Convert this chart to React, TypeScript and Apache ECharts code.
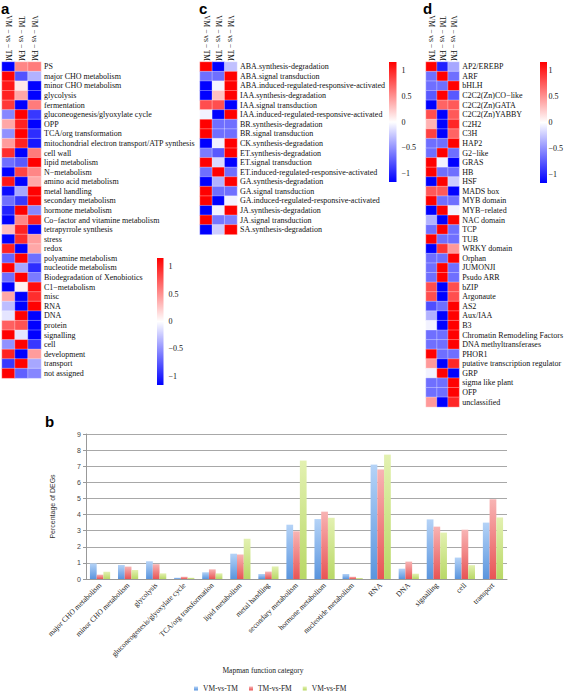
import React, { useEffect, useRef } from "react";
import * as echarts from "echarts";

const colsA = ["VM − vs − TM", "TM − vs − FM", "VM − vs − FM"];
const colsC = ["VM − vs − TM", "VM − vs − TM", "VM − vs − TM"];
const colsD = ["VM − vs − TM", "TM − vs − FM", "VM − vs − FM"];

const rowsA = [
  "PS", "major CHO metabolism", "minor CHO metabolism", "glycolysis", "fermentation",
  "gluconeogenesis/glyoxylate cycle", "OPP", "TCA/org transformation",
  "mitochondrial electron transport/ATP synthesis", "cell wall", "lipid metabolism",
  "N−metabolism", "amino acid metabolism", "metal handling", "secondary metabolism",
  "hormone metabolism", "Co−factor and vitamine metabolism", "tetrapyrrole synthesis",
  "stress", "redox", "polyamine metabolism", "nucleotide metabolism",
  "Biodegradation of Xenobiotics", "C1−metabolism", "misc", "RNA", "DNA", "protein",
  "signalling", "cell", "development", "transport", "not assigned",
];
const valuesA = [
  [-1.15, 0.55, 0.6], [1.13, -0.78, -0.35], [1.05, 0.1, -1.15], [1.0, 0.4, -1.15],
  [0.9, -1.15, 0.6], [-0.55, 1.15, -0.9], [0.4, 1.0, -1.15], [-0.5, 1.15, -0.95],
  [0.45, 1.0, -1.05], [0.95, -1.15, 0.6], [-0.65, -0.75, 1.15], [-1.15, 0.85, 0.55],
  [1.05, -1.15, 0.4], [-1.1, -0.4, 1.15], [-0.65, -0.9, 1.15], [-1.0, 1.15, -0.55],
  [-1.15, 0.55, 1.0], [0.3, 1.0, -1.15], [-1.15, 0.95, 0.45], [1.0, -1.15, 0.4],
  [-0.7, 1.15, -0.65], [1.15, -0.4, -0.95], [-0.65, 1.15, -0.6], [-1.15, 0.06, 1.1],
  [0.4, -1.15, 0.95], [-0.3, -1.15, 1.15], [-0.12, 1.15, -1.15], [0.72, 0.78, -1.15],
  [1.15, -0.12, -1.15], [-0.5, 1.15, -0.9], [1.0, -1.15, 0.45], [-0.9, 1.15, -0.4],
  [1.15, -0.72, -0.55],
];

const rowsC = [
  "ABA.synthesis-degradation", "ABA.signal transduction",
  "ABA.induced-regulated-responsive-activated", "IAA.synthesis-degradation",
  "IAA.signal transduction", "IAA.induced-regulated-responsive-activated",
  "BR.synthesis-degradation", "BR.signal transduction", "CK.synthesis-degradation",
  "ET.synthesis-degradation", "ET.signal transduction",
  "ET.induced-regulated-responsive-activated", "GA.synthesis-degradation",
  "GA.signal transduction", "GA.induced-regulated-responsive-activated",
  "JA.synthesis-degradation", "JA.signal transduction", "SA.synthesis-degradation",
];
const valuesC = [
  [1.15, -1.15, -0.28], [-0.65, -0.65, 1.15], [-1.15, -0.05, 1.15], [-1.15, 0.28, 1.15],
  [0.8, 0.8, -1.15], [-0.06, -1.15, 1.15], [1.15, -0.65, -0.65], [1.15, -0.65, -0.65],
  [-1.15, -0.06, 1.15], [-0.6, -0.75, 1.15], [1.15, -0.17, -1.15], [-0.65, 1.15, -0.65],
  [-1.15, -0.35, 1.15], [1.15, -0.65, -0.65], [1.15, -1.15, -0.06], [-1.15, -0.06, 1.15],
  [1.15, -0.62, -0.58], [-1.15, -0.22, 1.15],
];

const rowsD = [
  "AP2/EREBP", "ARF", "bHLH", "C2C2(Zn)CO−like", "C2C2(Zn)GATA", "C2C2(Zn)YABBY",
  "C2H2", "C3H", "HAP2", "G2−like", "GRAS", "HB", "HSF", "MADS box", "MYB domain",
  "MYB−related", "NAC domain", "TCP", "TUB", "WRKY domain", "Orphan", "JUMONJI",
  "Psudo ARR", "bZIP", "Argonaute", "AS2", "Aux/IAA", "B3",
  "Chromatin Remodeling Factors", "DNA methyltransferases", "PHOR1",
  "putative transcription regulator", "GRP", "sigma like plant", "OFP", "unclassified",
];
const valuesD = [
  [1.15, -1.0, -0.4], [-0.65, 1.15, -0.65], [-0.65, -0.65, 1.15], [-0.75, 1.15, -0.75],
  [-1.15, 0.7, 0.75], [0.8, -1.15, 0.75], [0.35, -1.15, 0.98], [0.86, -1.15, 0.7],
  [-0.65, -0.65, 1.15], [-0.65, 1.15, -0.65], [1.15, -0.06, -1.15], [1.15, -0.65, -0.65],
  [-1.15, 1.15, -0.23], [0.75, 0.75, -1.15], [1.15, -0.65, -0.65], [-1.15, 1.15, -0.06],
  [-0.35, -1.15, 1.15], [-0.65, 1.15, -0.65], [1.15, -0.65, -0.65], [-1.15, 0.92, 0.46],
  [-0.65, -0.65, 1.15], [-0.65, 1.15, -0.65], [-0.65, 1.15, -0.65], [0.8, -1.15, 0.8],
  [0.8, -1.15, 0.8], [-0.8, -0.65, 1.15], [-0.35, -1.15, 1.15], [-0.06, -1.15, 1.15],
  [-0.65, -0.65, 1.15], [-0.65, -0.65, 1.15], [1.15, -0.65, -0.65], [0.46, -1.15, 0.98],
  [-0.06, 1.15, -1.15], [-0.65, -0.65, 1.15], [-0.65, -0.65, 1.15], [0.46, -1.15, 0.98],
];

const colorbarTicks = [1, 0.5, 0, -0.5, -1];
const zMin = -1.155;
const zMax = 1.155;

const barCategories = [
  "major CHO metabolism", "minor CHO metabolism", "glycolysis",
  "gluconeogenesis/glyoxylate cycle", "TCA/org transformation", "lipid metabolism",
  "metal handling", "secondary metabolism", "hormone metabolism",
  "nucleotide metabolism", "RNA", "DNA", "signalling", "cell", "transport",
];
const barSeriesNames = ["VM-vs-TM", "TM-vs-FM", "VM-vs-FM"];
const vmTm = [0.97, 0.87, 1.1, 0.08, 0.42, 1.57, 0.31, 3.37, 3.72, 0.31, 7.1, 0.64, 3.7, 1.33, 3.5];
const tmFm = [0.27, 0.77, 0.92, 0.14, 0.6, 1.52, 0.46, 2.96, 4.18, 0.14, 6.8, 1.08, 3.25, 3.06, 4.95];
const vmFm = [0.45, 0.56, 0.35, 0.08, 0.35, 2.5, 0.78, 7.35, 3.8, 0.06, 7.72, 0.33, 2.88, 0.86, 3.82];

const SERIF = '"Liberation Serif", "DejaVu Serif", serif';
const SANS = '"Liberation Sans", "DejaVu Sans", sans-serif';

function toCells(values: number[][]) {
  const out: number[][] = [];
  values.forEach((row, r) => row.forEach((v, c) => out.push([c, r, v])));
  return out;
}

export default function App() {
  const ref = useRef<HTMLDivElement>(null);
  useEffect(() => {
    if (!ref.current) return;
    const chart = echarts.init(ref.current, undefined, { renderer: "svg" });
    const rowH = 9.58;

    const heatGrids = [
      { left: 2, top: 62, width: 39, height: rowsA.length * rowH },
      { left: 200, top: 62, width: 37, height: rowsC.length * rowH },
      { left: 426, top: 62, width: 38, height: rowsD.length * rowH },
    ];
    const cbGrids = [
      { left: 157, top: 258, width: 6.5, height: 127 },
      { left: 389, top: 62, width: 7.5, height: 120 },
      { left: 540, top: 62, width: 7, height: 121 },
    ];
    const barGrid = { left: 86, top: 434, width: 421, height: 145 };

    const heatCols = [colsA, colsC, colsD];
    const heatRows = [rowsA, rowsC, rowsD];
    const heatVals = [valuesA, valuesC, valuesD];

    const xAxes: any[] = [];
    const yAxes: any[] = [];
    heatCols.forEach((cols, i) => {
      xAxes.push({
        type: "category", gridIndex: i, data: cols, position: "top",
        axisLine: { show: false }, axisTick: { show: false },
        axisLabel: { rotate: 90, interval: 0, margin: 1, fontSize: 7.5, fontFamily: SERIF, color: "#111" },
      });
      yAxes.push({
        type: "category", gridIndex: i, data: heatRows[i], inverse: true, position: "right",
        axisLine: { show: false }, axisTick: { show: false },
        axisLabel: { interval: 0, margin: 3, fontSize: 8, fontFamily: SERIF, color: "#111" },
      });
    });
    cbGrids.forEach((_, k) => {
      xAxes.push({ type: "value", gridIndex: 3 + k, show: false, min: 0, max: 1 });
      yAxes.push({
        type: "value", gridIndex: 3 + k, min: zMin, max: zMax, position: "right",
        axisLine: { show: false }, axisTick: { show: false }, splitLine: { show: false },
        axisLabel: {
          customValues: colorbarTicks, margin: 5, fontSize: 8, fontFamily: SERIF, color: "#111",
          formatter: (v: number) => (v < 0 ? "−" + String(-v) : String(v)),
        },
      });
    });
    xAxes.push({
      type: "category", gridIndex: 6, data: barCategories,
      axisLine: { lineStyle: { color: "#999" } }, axisTick: { show: false },
      axisLabel: { rotate: 45, interval: 0, margin: 5, fontSize: 7.5, fontFamily: SERIF, color: "#222" },
    });
    yAxes.push({
      type: "value", gridIndex: 6, min: 0, max: 9, interval: 1,
      name: "Percentage of DEGs", nameLocation: "middle", nameGap: 30, nameRotate: 90,
      nameTextStyle: { fontSize: 7, fontFamily: SANS, color: "#333" },
      axisLine: { show: true, lineStyle: { color: "#999" } },
      axisTick: { show: true, length: 3, lineStyle: { color: "#999" } },
      splitLine: { lineStyle: { color: "#a8a8a8", width: 1 } },
      axisLabel: { margin: 5, fontSize: 7, fontFamily: SANS, color: "#444" },
    });

    const heatSeries = heatVals.map((vals, i) => ({
      type: "heatmap", xAxisIndex: i, yAxisIndex: i, data: toCells(vals),
      itemStyle: { borderColor: "rgba(255,255,255,0.55)", borderWidth: 0.6 },
      emphasis: { disabled: true },
    }));

    const grad = (top: string, bottom: string) =>
      new echarts.graphic.LinearGradient(0, 0, 0, 1, [
        { offset: 0, color: top },
        { offset: 1, color: bottom },
      ]);
    const barColors = [
      ["#b5d3f7", "#5a95de"],
      ["#f8b4b4", "#e85455"],
      ["#e3f1b1", "#b8d866"],
    ];
    const barData = [vmTm, tmFm, vmFm];
    const barSeries = barData.map((d, i) => ({
      type: "bar", name: barSeriesNames[i], xAxisIndex: 6, yAxisIndex: 6, data: d,
      barGap: "0%", barCategoryGap: "28%",
      itemStyle: { color: grad(barColors[i][0], barColors[i][1]) },
    }));

    const cbFill = () =>
      new echarts.graphic.LinearGradient(0, 0, 0, 1, [
        { offset: 0, color: "#ff0000" },
        { offset: 0.5, color: "#ffffff" },
        { offset: 1, color: "#0000ff" },
      ]);

    const letter = (t: string, x: number, y: number) => ({
      type: "text", x, y,
      style: { text: t, font: `bold 15px ${SANS}`, fill: "#000" },
    });

    chart.setOption({
      animation: false,
      grid: [...heatGrids, ...cbGrids, barGrid],
      xAxis: xAxes,
      yAxis: yAxes,
      visualMap: [0, 1, 2].map((i) => ({
        type: "continuous", show: false, min: zMin, max: zMax, seriesIndex: i,
        inRange: { color: ["#0000ff", "#ffffff", "#ff0000"] },
      })),
      legend: {
        data: barSeriesNames, left: 194, top: 684, padding: 0, icon: "rect", itemWidth: 4, itemHeight: 4,
        itemGap: 11, textStyle: { fontSize: 7.5, lineHeight: 9, fontFamily: SERIF, color: "#222" },
      },
      graphic: [
        letter("a", 1, 1),
        letter("c", 199, 1),
        letter("d", 423, 1),
        letter("b", 45, 414),
        ...cbGrids.map((g) => ({
          type: "rect",
          shape: { x: g.left, y: g.top, width: g.width, height: g.height },
          style: { fill: cbFill() },
        })),
        {
          type: "text", x: 263, y: 666,
          style: { text: "Mapman function category", font: `7.5px ${SERIF}`, fill: "#222", align: "center" },
        },
      ],
      series: [...heatSeries, ...barSeries],
    });
    return () => chart.dispose();
  }, []);
  return <div ref={ref} style={{ position: "absolute", left: 0, top: 0, width: 566, height: 697 }} />;
}
